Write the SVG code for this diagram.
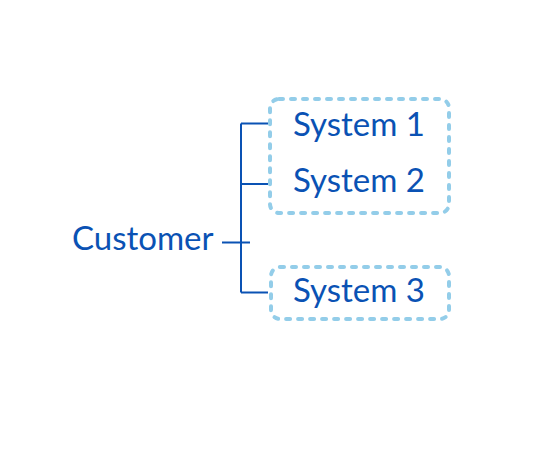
<svg xmlns="http://www.w3.org/2000/svg" width="550" height="450" viewBox="0 0 550 450">
<style>
.t{font-family:Lato,"Open Sans","Liberation Sans",sans-serif;font-size:33px;fill:#0a52b4}
.g{fill:none;stroke:#93cde9;stroke-width:4;stroke-dasharray:4 8;stroke-linecap:round}
.c{fill:none;stroke:#0a52b4;stroke-width:2}
</style>
<rect width="550" height="450" fill="#fff"/>
<g id="group1"><rect class="g" x="270" y="99" width="179" height="114" rx="9"/></g>
<g id="group2"><rect class="g" x="271" y="267" width="178" height="52" rx="9"/></g>
<g id="connectors">
<path class="c" d="M222 242.5H250M241 123.5V292.5M241 123.5H268M241 184H268M241 292.5H268"/>
</g>
<g id="customer"><text class="t" x="72" y="250">Customer</text></g>
<g id="system1"><text class="t" x="293" y="136">System 1</text></g>
<g id="system2"><text class="t" x="293" y="192">System 2</text></g>
<g id="system3"><text class="t" x="293" y="302">System 3</text></g>
</svg>
